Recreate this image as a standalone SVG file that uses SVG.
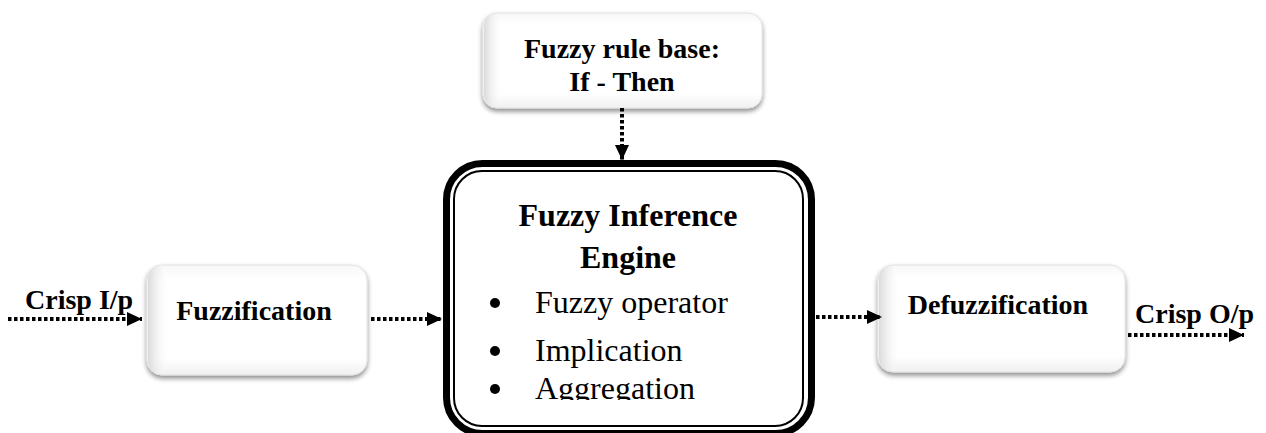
<svg xmlns="http://www.w3.org/2000/svg" width="1266" height="433" viewBox="0 0 1266 433">
  <defs>
    <style>
      .lbl { font-family: "Liberation Serif", "Times New Roman", serif; font-weight: bold; font-size: 28px; fill: #000; }
      .big { font-family: "Liberation Serif", "Times New Roman", serif; font-weight: bold; font-size: 32px; fill: #000; }
      .item { font-family: "Liberation Serif", "Times New Roman", serif; font-size: 32px; fill: #000; }
      .flow { fill: none; stroke: #000; stroke-width: 4; stroke-dasharray: 3.5 2.5; }
      .soft { fill: url(#face); stroke: #e2e2e2; stroke-width: 1; filter: url(#shadow); }
      .bevelL { fill: url(#edgeL); }
    </style>
    <linearGradient id="face" x1="0" y1="0" x2="0" y2="1">
      <stop offset="0" stop-color="#f7f7f7"/>
      <stop offset="0.12" stop-color="#ffffff"/>
      <stop offset="0.85" stop-color="#ffffff"/>
      <stop offset="1" stop-color="#f0f0f0"/>
    </linearGradient>
    <linearGradient id="edgeL" x1="0" y1="0" x2="1" y2="0">
      <stop offset="0" stop-color="#d6d6d6" stop-opacity="0.9"/>
      <stop offset="1" stop-color="#ffffff" stop-opacity="0"/>
    </linearGradient>
    <filter id="shadow" x="-10%" y="-10%" width="120%" height="130%">
      <feGaussianBlur in="SourceAlpha" stdDeviation="2.5"/>
      <feOffset dx="0" dy="3" result="b"/>
      <feComponentTransfer><feFuncA type="linear" slope="0.45"/></feComponentTransfer>
      <feMerge><feMergeNode/><feMergeNode in="SourceGraphic"/></feMerge>
    </filter>
    <marker id="tip" viewBox="0 0 15 14" refX="15" refY="7" markerWidth="15" markerHeight="14" markerUnits="userSpaceOnUse" orient="auto">
      <path d="M0,0 L15,7 L0,14 Z" fill="#000"/>
    </marker>
    <clipPath id="engineText">
      <rect x="455" y="172" width="347" height="228"/>
    </clipPath>
  </defs>

  <rect width="1266" height="433" fill="#fff"/>

  <!-- rule base -->
  <g id="rulebase">
    <rect class="soft" x="483" y="13" width="279" height="95" rx="14"/>
    <path class="bevelL" d="M497,14 L503,30 L503,92 L497,107 Q484,106 484,94 L484,27 Q484,14 497,14 Z"/>
    <text class="lbl" x="622" y="58" text-anchor="middle">Fuzzy rule base:</text>
    <text class="lbl" x="622" y="91" text-anchor="middle">If - Then</text>
  </g>

  <!-- fuzzification -->
  <g id="fuzzification">
    <rect class="soft" x="147" y="265" width="220" height="110" rx="15"/>
    <path class="bevelL" d="M161,266 L170,290 L170,350 L161,374 Q148,373 148,360 L148,280 Q148,266 161,266 Z"/>
    <text class="lbl" x="254" y="320" text-anchor="middle">Fuzzification</text>
  </g>

  <!-- inference engine -->
  <g id="engine">
    <rect x="446.5" y="163.5" width="365" height="270" rx="36" fill="#fff" stroke="#000" stroke-width="7"/>
    <rect x="454" y="171" width="349" height="255" rx="28" fill="none" stroke="#000" stroke-width="2"/>
    <text class="big" x="628" y="226" text-anchor="middle">Fuzzy Inference</text>
    <text class="big" x="628" y="268" text-anchor="middle">Engine</text>
    <g clip-path="url(#engineText)">
      <circle cx="495" cy="303" r="5"/>
      <text class="item" x="535" y="313">Fuzzy operator</text>
      <circle cx="495" cy="351" r="5"/>
      <text class="item" x="535" y="361">Implication</text>
      <circle cx="495" cy="389" r="5"/>
      <text class="item" x="535" y="399">Aggregation</text>
    </g>
  </g>

  <!-- defuzzification -->
  <g id="defuzzification">
    <rect class="soft" x="878" y="265" width="247" height="107" rx="15"/>
    <path class="bevelL" d="M892,266 L901,290 L901,348 L892,371 Q879,370 879,357 L879,280 Q879,266 892,266 Z"/>
    <text class="lbl" x="998" y="314" text-anchor="middle">Defuzzification</text>
  </g>

  <!-- input / output labels -->
  <g id="io-labels">
    <text class="lbl" x="25" y="309">Crisp I/p</text>
    <text class="lbl" x="1135" y="323">Crisp O/p</text>
  </g>

  <!-- connectors -->
  <g id="connectors">
    <line class="flow" x1="8" y1="319" x2="142" y2="319" marker-end="url(#tip)"/>
    <line class="flow" x1="371" y1="319" x2="442" y2="319" marker-end="url(#tip)"/>
    <line class="flow" x1="622" y1="108" x2="622" y2="160" marker-end="url(#tip)"/>
    <line class="flow" x1="816" y1="317" x2="882" y2="317" marker-end="url(#tip)"/>
    <line class="flow" x1="1128" y1="335" x2="1244" y2="335" marker-end="url(#tip)"/>
  </g>
</svg>
